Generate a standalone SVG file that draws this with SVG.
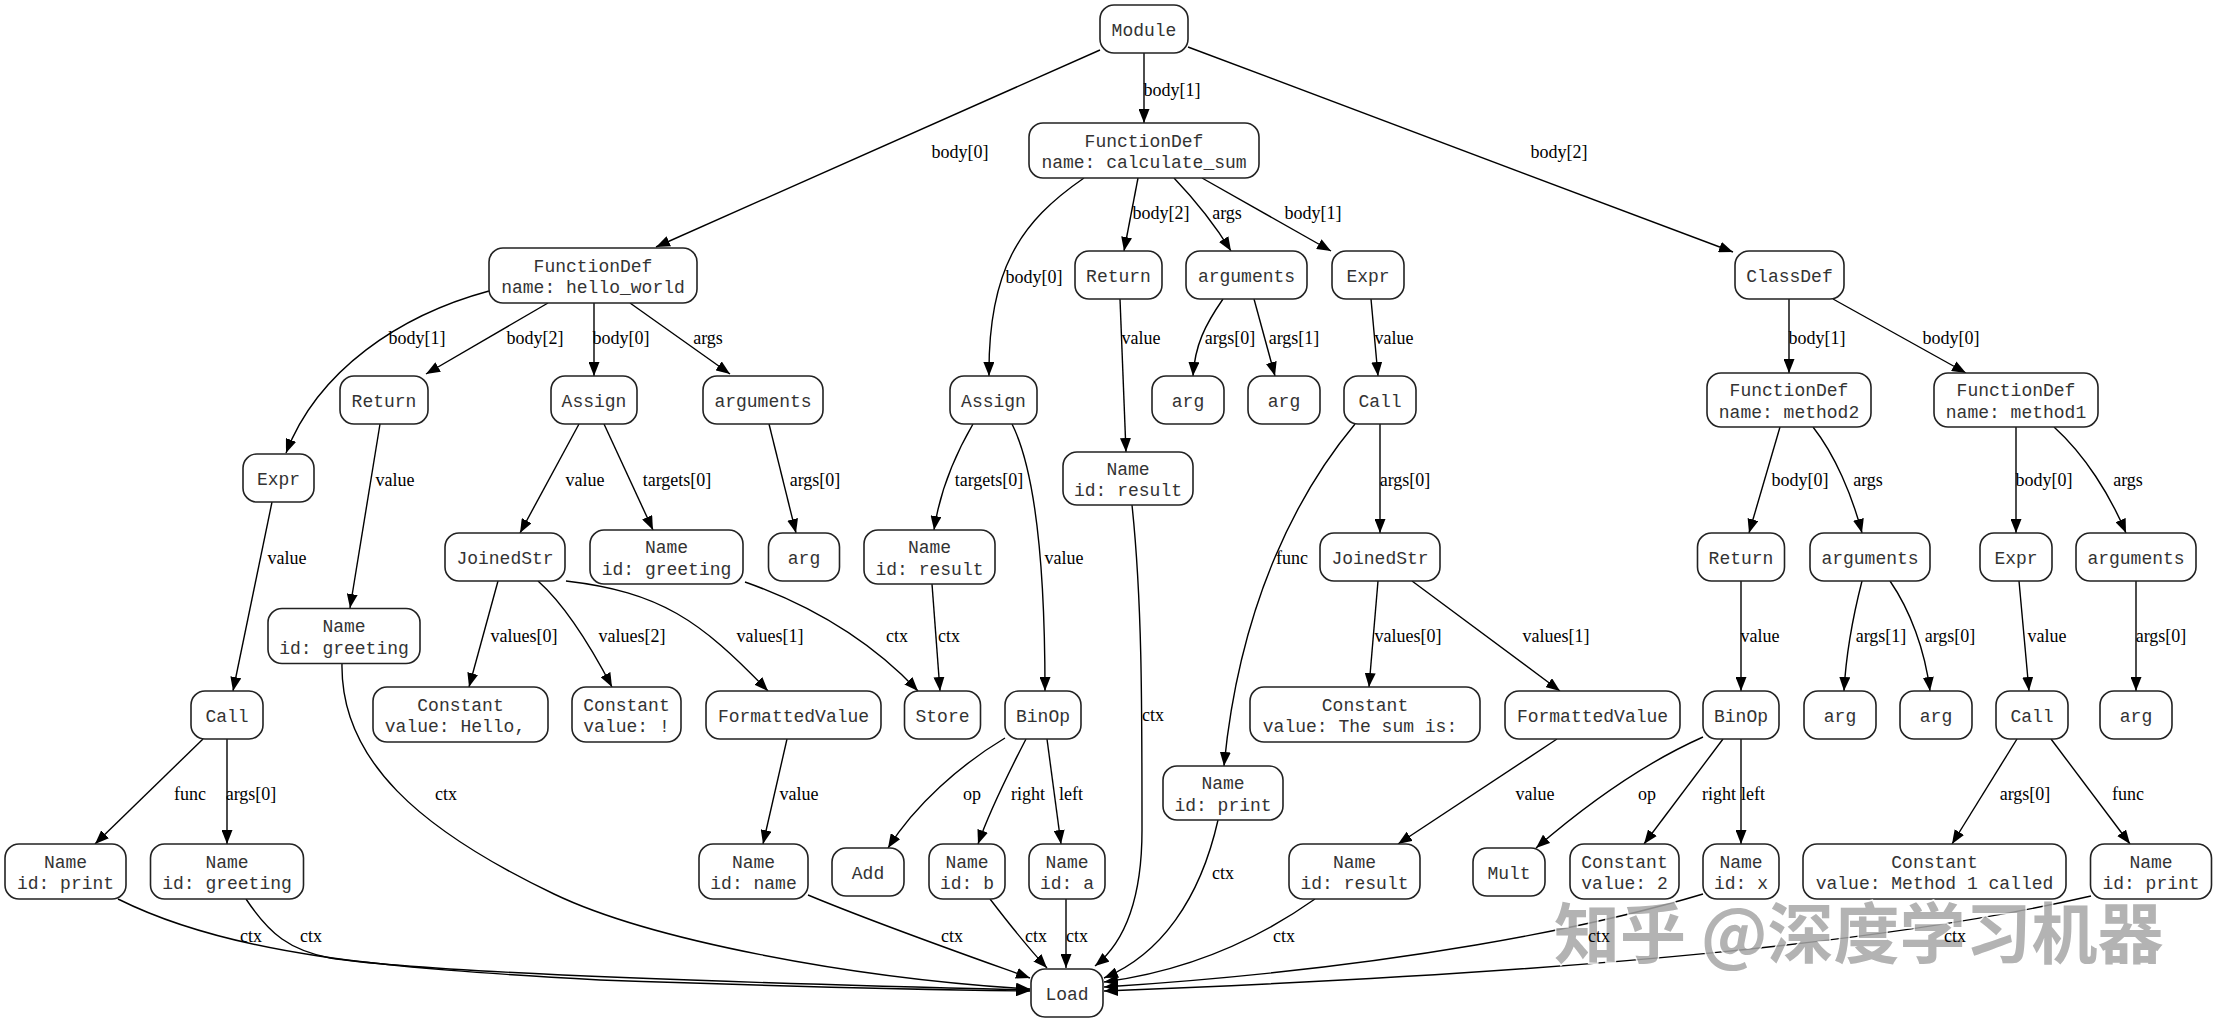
<svg xmlns="http://www.w3.org/2000/svg" width="2216" height="1023" viewBox="0 0 2216 1023">
<style>
.n rect{fill:#fff;stroke:#222;stroke-width:1.6}
.n text{font-family:"Liberation Mono","DejaVu Sans Mono",monospace;font-size:18px;fill:#333;text-anchor:middle}
.e path{fill:none;stroke:#000;stroke-width:1.4;marker-end:url(#ah)}
.l text{font-family:"Liberation Serif","Times New Roman",serif;font-size:18px;fill:#000;text-anchor:middle}
.wm{font-family:"Noto Sans CJK SC","Noto Sans",sans-serif;font-size:66px;font-weight:bold;fill:#a6a6a6;stroke:#fff;stroke-width:3;paint-order:stroke;opacity:0.85}
</style>
<defs>
<marker id="ah" markerWidth="14" markerHeight="11" refX="14" refY="5.5" orient="auto" markerUnits="userSpaceOnUse"><path d="M0,0 L14,5.5 L0,11 z" fill="#000"/></marker>
</defs>
<rect width="2216" height="1023" fill="#fff"/>
<g id="connectors" class="e">
<path d="M1100,50 L656,247"/>
<path d="M1144,53 L1144,123"/>
<path d="M1188,47 L1733,252"/>
<path d="M489,291 C400,315 318,370 286,453"/>
<path d="M548,303 L426,374"/>
<path d="M594,303 L594,376"/>
<path d="M630,303 L730,374"/>
<path d="M1084,178 C1020,222 988,270 989,376"/>
<path d="M1138,178 L1124,251"/>
<path d="M1174,178 C1195,200 1215,225 1231,251"/>
<path d="M1202,178 L1331,251"/>
<path d="M1223,299 C1205,325 1195,345 1193,376"/>
<path d="M1254,299 L1275,376"/>
<path d="M1371,299 L1378,376"/>
<path d="M1120,299 L1126,452"/>
<path d="M1789,299 L1789,373"/>
<path d="M1833,299 L1966,373"/>
<path d="M1355,424 C1300,490 1240,600 1224,766"/>
<path d="M1380,424 L1380,533"/>
<path d="M1780,427 L1749,533"/>
<path d="M1813,427 C1835,455 1852,495 1862,533"/>
<path d="M2016,427 L2016,533"/>
<path d="M2054,427 C2085,455 2110,495 2126,533"/>
<path d="M272,502 L233,691"/>
<path d="M380,424 L350,608"/>
<path d="M579,424 L520,533"/>
<path d="M604,424 L653,530"/>
<path d="M769,424 L796,533"/>
<path d="M973,424 C955,455 940,490 934,530"/>
<path d="M1012,424 C1035,470 1045,560 1045,691"/>
<path d="M498,581 L469,687"/>
<path d="M538,581 C565,605 590,645 612,687"/>
<path d="M566,581 C660,592 700,620 768,691"/>
<path d="M745,582 C810,605 870,640 918,691"/>
<path d="M932,584 L940,691"/>
<path d="M787,739 L763,844"/>
<path d="M1005,738 C960,765 915,805 888,848"/>
<path d="M1026,739 C1010,770 990,810 978,844"/>
<path d="M1047,739 L1061,844"/>
<path d="M808,895 C880,925 980,960 1030,978"/>
<path d="M990,899 C1010,925 1030,950 1047,968"/>
<path d="M1066,899 L1066,968"/>
<path d="M118,899 C230,955 380,968 600,980 C800,987 950,990 1030,991"/>
<path d="M246,899 C270,935 290,950 330,958 C420,972 700,982 1030,990"/>
<path d="M342,663 C340,760 420,830 554,894 C650,940 850,978 1030,989"/>
<path d="M1132,505 C1142,600 1142,700 1142,830 C1142,900 1125,942 1095,966"/>
<path d="M1218,820 C1200,900 1160,955 1104,978"/>
<path d="M1315,899 C1250,945 1180,972 1104,982"/>
<path d="M1703,894 C1600,925 1400,968 1104,987"/>
<path d="M2091,896 C1900,940 1600,972 1104,991"/>
<path d="M1378,581 L1369,687"/>
<path d="M1412,581 L1560,691"/>
<path d="M1557,739 L1398,844"/>
<path d="M1703,737 C1640,765 1580,810 1536,848"/>
<path d="M1723,739 L1644,844"/>
<path d="M1741,739 L1741,844"/>
<path d="M1741,581 L1741,691"/>
<path d="M1862,581 C1852,620 1846,655 1844,691"/>
<path d="M1890,581 C1910,610 1925,650 1930,691"/>
<path d="M2019,581 L2029,691"/>
<path d="M2136,581 L2136,691"/>
<path d="M2017,739 L1952,844"/>
<path d="M2051,739 L2130,844"/>
<path d="M203,739 L95,844"/>
<path d="M227,739 L227,844"/>
</g>
<g id="edge-labels" class="l">
<text x="960" y="158">body[0]</text>
<text x="1172" y="96">body[1]</text>
<text x="1559" y="158">body[2]</text>
<text x="417" y="344">body[1]</text>
<text x="535" y="344">body[2]</text>
<text x="621" y="344">body[0]</text>
<text x="708" y="344">args</text>
<text x="1034" y="283">body[0]</text>
<text x="1161" y="219">body[2]</text>
<text x="1227" y="219">args</text>
<text x="1313" y="219">body[1]</text>
<text x="1230" y="344">args[0]</text>
<text x="1294" y="344">args[1]</text>
<text x="1394" y="344">value</text>
<text x="1141" y="344">value</text>
<text x="1817" y="344">body[1]</text>
<text x="1951" y="344">body[0]</text>
<text x="1292" y="564">func</text>
<text x="1405" y="486">args[0]</text>
<text x="1800" y="486">body[0]</text>
<text x="1868" y="486">args</text>
<text x="2044" y="486">body[0]</text>
<text x="2128" y="486">args</text>
<text x="287" y="564">value</text>
<text x="395" y="486">value</text>
<text x="585" y="486">value</text>
<text x="677" y="486">targets[0]</text>
<text x="815" y="486">args[0]</text>
<text x="989" y="486">targets[0]</text>
<text x="1064" y="564">value</text>
<text x="524" y="642">values[0]</text>
<text x="632" y="642">values[2]</text>
<text x="770" y="642">values[1]</text>
<text x="897" y="642">ctx</text>
<text x="949" y="642">ctx</text>
<text x="799" y="800">value</text>
<text x="972" y="800">op</text>
<text x="1028" y="800">right</text>
<text x="1071" y="800">left</text>
<text x="952" y="942">ctx</text>
<text x="1036" y="942">ctx</text>
<text x="1077" y="942">ctx</text>
<text x="251" y="942">ctx</text>
<text x="311" y="942">ctx</text>
<text x="446" y="800">ctx</text>
<text x="1153" y="721">ctx</text>
<text x="1223" y="879">ctx</text>
<text x="1284" y="942">ctx</text>
<text x="1408" y="642">values[0]</text>
<text x="1556" y="642">values[1]</text>
<text x="1535" y="800">value</text>
<text x="1647" y="800">op</text>
<text x="1719" y="800">right</text>
<text x="1753" y="800">left</text>
<text x="1760" y="642">value</text>
<text x="1881" y="642">args[1]</text>
<text x="1950" y="642">args[0]</text>
<text x="2047" y="642">value</text>
<text x="2161" y="642">args[0]</text>
<text x="2025" y="800">args[0]</text>
<text x="2128" y="800">func</text>
<text x="190" y="800">func</text>
<text x="251" y="800">args[0]</text>
</g>
<g id="n_module" class="n"><rect x="1100" y="5" width="88" height="48" rx="14"/><text x="1144" y="36">Module</text></g>
<g id="n_fd_calc" class="n"><rect x="1029" y="123" width="230" height="55" rx="14"/><text x="1144" y="146.5">FunctionDef</text><text x="1144" y="168">name: calculate_sum</text></g>
<g id="n_fd_hello" class="n"><rect x="489" y="248" width="208" height="55" rx="14"/><text x="593" y="271.5">FunctionDef</text><text x="593" y="293">name: hello_world</text></g>
<g id="n_return_calc" class="n"><rect x="1075" y="251" width="87" height="48" rx="14"/><text x="1118.5" y="282">Return</text></g>
<g id="n_arguments_calc" class="n"><rect x="1186" y="251" width="121" height="48" rx="14"/><text x="1246.5" y="282">arguments</text></g>
<g id="n_expr_calc" class="n"><rect x="1332" y="251" width="72" height="48" rx="14"/><text x="1368" y="282">Expr</text></g>
<g id="n_classdef" class="n"><rect x="1735" y="251" width="109" height="48" rx="14"/><text x="1789.5" y="282">ClassDef</text></g>
<g id="n_return_hello" class="n"><rect x="340" y="376" width="88" height="48" rx="14"/><text x="384" y="407">Return</text></g>
<g id="n_assign_hello" class="n"><rect x="551" y="376" width="86" height="48" rx="14"/><text x="594" y="407">Assign</text></g>
<g id="n_arguments_hello" class="n"><rect x="703" y="376" width="120" height="48" rx="14"/><text x="763" y="407">arguments</text></g>
<g id="n_assign_calc" class="n"><rect x="950" y="376" width="87" height="48" rx="14"/><text x="993.5" y="407">Assign</text></g>
<g id="n_arg_calc_a" class="n"><rect x="1152" y="376" width="72" height="48" rx="14"/><text x="1188" y="407">arg</text></g>
<g id="n_arg_calc_b" class="n"><rect x="1248" y="376" width="72" height="48" rx="14"/><text x="1284" y="407">arg</text></g>
<g id="n_call_calc" class="n"><rect x="1344" y="376" width="72" height="48" rx="14"/><text x="1380" y="407">Call</text></g>
<g id="n_fd_m2" class="n"><rect x="1707" y="373" width="164" height="54" rx="14"/><text x="1789" y="396">FunctionDef</text><text x="1789" y="417.5">name: method2</text></g>
<g id="n_fd_m1" class="n"><rect x="1934" y="373" width="164" height="54" rx="14"/><text x="2016" y="396">FunctionDef</text><text x="2016" y="417.5">name: method1</text></g>
<g id="n_expr_hello" class="n"><rect x="243" y="454" width="71" height="48" rx="14"/><text x="278.5" y="485">Expr</text></g>
<g id="n_name_result_ret" class="n"><rect x="1063" y="452" width="130" height="53" rx="14"/><text x="1128" y="474.5">Name</text><text x="1128" y="496">id: result</text></g>
<g id="n_joined_hello" class="n"><rect x="445" y="533" width="120" height="48" rx="14"/><text x="505" y="564">JoinedStr</text></g>
<g id="n_name_greeting_tgt" class="n"><rect x="590" y="530" width="153" height="54" rx="14"/><text x="666.5" y="553">Name</text><text x="666.5" y="574.5">id: greeting</text></g>
<g id="n_arg_hello" class="n"><rect x="768.5" y="533" width="71" height="48" rx="14"/><text x="804" y="564">arg</text></g>
<g id="n_name_result_tgt" class="n"><rect x="864" y="530" width="131" height="54" rx="14"/><text x="929.5" y="553">Name</text><text x="929.5" y="574.5">id: result</text></g>
<g id="n_joined_calc" class="n"><rect x="1320" y="533" width="120" height="48" rx="14"/><text x="1380" y="564">JoinedStr</text></g>
<g id="n_return_m2" class="n"><rect x="1697.5" y="533" width="87" height="48" rx="14"/><text x="1741" y="564">Return</text></g>
<g id="n_arguments_m2" class="n"><rect x="1810" y="533" width="120" height="48" rx="14"/><text x="1870" y="564">arguments</text></g>
<g id="n_expr_m1" class="n"><rect x="1980" y="533" width="72" height="48" rx="14"/><text x="2016" y="564">Expr</text></g>
<g id="n_arguments_m1" class="n"><rect x="2076" y="533" width="120" height="48" rx="14"/><text x="2136" y="564">arguments</text></g>
<g id="n_name_greeting_ret" class="n"><rect x="268" y="608.5" width="152" height="55" rx="14"/><text x="344" y="632">Name</text><text x="344" y="653.5">id: greeting</text></g>
<g id="n_call_hello" class="n"><rect x="191" y="691" width="72" height="48" rx="14"/><text x="227" y="722">Call</text></g>
<g id="n_const_hello" class="n"><rect x="373" y="687" width="175" height="55" rx="14"/><text x="460.5" y="710.5">Constant</text><text x="455" y="732">value: Hello,</text></g>
<g id="n_const_excl" class="n"><rect x="572" y="687" width="109" height="55" rx="14"/><text x="626.5" y="710.5">Constant</text><text x="626.5" y="732">value: !</text></g>
<g id="n_fv_hello" class="n"><rect x="706" y="691" width="175" height="48" rx="14"/><text x="793.5" y="722">FormattedValue</text></g>
<g id="n_store" class="n"><rect x="904.5" y="691" width="76" height="48" rx="14"/><text x="942.5" y="722">Store</text></g>
<g id="n_binop_calc" class="n"><rect x="1005" y="691" width="76" height="48" rx="14"/><text x="1043" y="722">BinOp</text></g>
<g id="n_const_sum" class="n"><rect x="1250" y="687" width="230" height="55" rx="14"/><text x="1365" y="710.5">Constant</text><text x="1360" y="732">value: The sum is:</text></g>
<g id="n_fv_calc" class="n"><rect x="1505" y="691" width="175" height="48" rx="14"/><text x="1592.5" y="722">FormattedValue</text></g>
<g id="n_binop_m2" class="n"><rect x="1703" y="691" width="76" height="48" rx="14"/><text x="1741" y="722">BinOp</text></g>
<g id="n_arg_m2_a" class="n"><rect x="1804" y="691" width="72" height="48" rx="14"/><text x="1840" y="722">arg</text></g>
<g id="n_arg_m2_b" class="n"><rect x="1900" y="691" width="72" height="48" rx="14"/><text x="1936" y="722">arg</text></g>
<g id="n_call_m1" class="n"><rect x="1996" y="691" width="72" height="48" rx="14"/><text x="2032" y="722">Call</text></g>
<g id="n_arg_m1" class="n"><rect x="2100" y="691" width="72" height="48" rx="14"/><text x="2136" y="722">arg</text></g>
<g id="n_name_print_calc" class="n"><rect x="1163" y="766" width="120" height="54" rx="14"/><text x="1223" y="789">Name</text><text x="1223" y="810.5">id: print</text></g>
<g id="n_name_print_hello" class="n"><rect x="5" y="844" width="121" height="55" rx="14"/><text x="65.5" y="867.5">Name</text><text x="65.5" y="889">id: print</text></g>
<g id="n_name_greeting_arg" class="n"><rect x="150.5" y="844" width="153" height="55" rx="14"/><text x="227" y="867.5">Name</text><text x="227" y="889">id: greeting</text></g>
<g id="n_name_name" class="n"><rect x="699" y="844" width="109" height="55" rx="14"/><text x="753.5" y="867.5">Name</text><text x="753.5" y="889">id: name</text></g>
<g id="n_add" class="n"><rect x="832" y="848" width="72" height="48" rx="14"/><text x="868" y="879">Add</text></g>
<g id="n_name_b" class="n"><rect x="929" y="844" width="76" height="55" rx="14"/><text x="967" y="867.5">Name</text><text x="967" y="889">id: b</text></g>
<g id="n_name_a" class="n"><rect x="1029" y="844" width="76" height="55" rx="14"/><text x="1067" y="867.5">Name</text><text x="1067" y="889">id: a</text></g>
<g id="n_name_result_fv" class="n"><rect x="1289" y="844" width="131" height="55" rx="14"/><text x="1354.5" y="867.5">Name</text><text x="1354.5" y="889">id: result</text></g>
<g id="n_mult" class="n"><rect x="1473" y="848" width="72" height="48" rx="14"/><text x="1509" y="879">Mult</text></g>
<g id="n_const_2" class="n"><rect x="1570" y="844" width="109" height="55" rx="14"/><text x="1624.5" y="867.5">Constant</text><text x="1624.5" y="889">value: 2</text></g>
<g id="n_name_x" class="n"><rect x="1703" y="844" width="76" height="55" rx="14"/><text x="1741" y="867.5">Name</text><text x="1741" y="889">id: x</text></g>
<g id="n_const_m1" class="n"><rect x="1803" y="844" width="263" height="55" rx="14"/><text x="1934.5" y="867.5">Constant</text><text x="1934.5" y="889">value: Method 1 called</text></g>
<g id="n_name_print_m1" class="n"><rect x="2090.5" y="844" width="121" height="55" rx="14"/><text x="2151" y="867.5">Name</text><text x="2151" y="889">id: print</text></g>
<g id="n_load" class="n"><rect x="1031" y="969" width="72" height="48" rx="14"/><text x="1067" y="1000">Load</text></g>
<text class="wm" x="1554" y="958">知乎 @深度学习机器</text>
<g class="l"><text x="1599" y="942">ctx</text><text x="1955" y="942">ctx</text></g>
</svg>
